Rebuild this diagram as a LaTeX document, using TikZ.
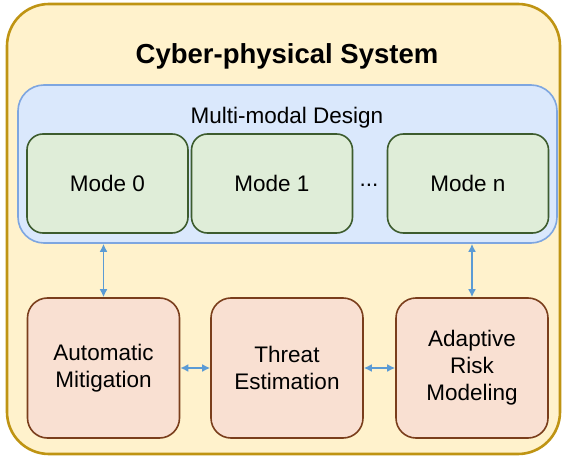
\documentclass[tikz,border=0pt]{standalone}
\usepackage{fontspec}
\setmainfont{Liberation Sans}
\usetikzlibrary{arrows.meta}
\definecolor{cpsfill}{HTML}{FFF2CC}
\definecolor{cpsline}{HTML}{BF9413}
\definecolor{mmfill}{HTML}{DAE8FC}
\definecolor{mmline}{HTML}{7EA6E0}
\definecolor{modefill}{HTML}{DFEDD8}
\definecolor{modeline}{HTML}{3D5C2E}
\definecolor{unitfill}{HTML}{F9E0D2}
\definecolor{unitline}{HTML}{7A3E1C}
\definecolor{arrline}{HTML}{5B9BD5}

\begin{document}
\begin{tikzpicture}[x=1pt,y=-1pt,font=\fontsize{22.5}{27}\selectfont]
\tikzstyle{mode}=[draw=modeline,fill=modefill,line width=1.6pt,rounded corners=16pt,minimum width=161pt,minimum height=99pt,inner sep=0pt]
\tikzstyle{unit}=[draw=unitline,fill=unitfill,line width=1.6pt,rounded corners=20pt,minimum width=152pt,minimum height=140pt,inner sep=0pt,align=center]
\tikzstyle{link}=[arrline,line width=1.8pt,{Latex[length=8pt,width=8pt]}-{Latex[length=8pt,width=8pt]}]
\useasboundingbox (0,0) rectangle (562,457);
% outer system
\node[draw=cpsline,fill=cpsfill,line width=2.6pt,rounded corners=42pt,minimum width=553pt,minimum height=450pt,inner sep=0pt] (cps) at (283.5,229) {};
\node[font=\fontsize{27.5}{32}\selectfont\bfseries] (title) at (287,56) {Cyber-physical System};
% multi-modal design
\node[draw=mmline,fill=mmfill,line width=1.6pt,rounded corners=26pt,minimum width=539pt,minimum height=158pt,inner sep=0pt] (mm) at (287.5,164) {};
\node (mmtitle) at (287,118) {Multi-modal Design};
\node[mode] (m0) at (107.5,183.5) {Mode 0};
\node[mode] (m1) at (272,183.5) {Mode 1};
\node (dots) at (369,185) {...};
\node[mode] (mn) at (468,183.5) {Mode n};
% bottom units
\node[unit] (am) at (103.5,368) {Automatic\\Mitigation};
\node[unit] (te) at (287,368) {Threat\\Estimation};
\node[unit] (ar) at (472,368) {Adaptive\\Risk\\Modeling};
\draw[link] (am.north |- mm.south) -- (am.north);
\draw[link] (ar.north |- mm.south) -- (ar.north);
\draw[link] (am) -- (te);
\draw[link] (te) -- (ar);
\end{tikzpicture}
\end{document}
